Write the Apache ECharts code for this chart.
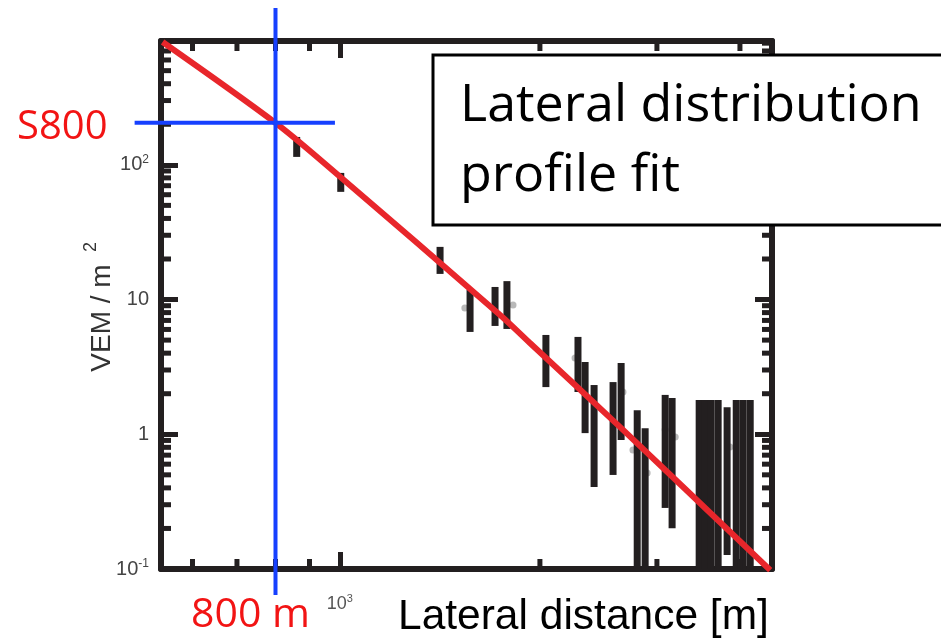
<!DOCTYPE html>
<html>
<head>
<meta charset="utf-8">
<script src="https://cdn.jsdelivr.net/npm/echarts@6/dist/echarts.min.js"></script>
<style>
html,body{margin:0;padding:0;background:#fff;}
#chart{width:941px;height:643px;}
</style>
</head>
<body>
<div id="chart"></div>
<script>
// ---- axis ranges ----
const X_MIN = 538, X_MAX = 4470;
const Y_MIN = 0.1, Y_MAX = 830;

// ---- tick values ----
const xMinorTicks = [600, 700, 800, 900, 2000, 3000, 4000];
const yMinorTicks = [0.2, 0.3, 0.4, 0.5, 0.6, 0.7, 0.8, 0.9,
                     2, 3, 4, 5, 6, 7, 8, 9,
                     20, 30, 40, 50, 60, 70, 80, 90,
                     200, 300, 400, 500, 600, 700, 800];

// ---- station signals: error bars (distance, low, high) ----
const barR  = [861, 1003, 1415, 1570, 1712, 1784, 2042, 2282, 2339, 2413, 2577, 2650,
               2802, 2880, 3087, 3162, 3473, 3545, 3620, 3709, 3826, 3949, 4045, 4145];
const barLo = [114.5, 63.0, 15.5, 5.75, 6.37, 6.05, 2.24, 2.06, 1.02, 0.406, 0.499, 0.907,
               0.1, 0.1, 0.284, 0.201, 0.1, 0.1, 0.1, 0.1, 0.127, 0.1, 0.1, 0.1];
const barHi = [161, 87.1, 24.6, 11.8, 12.4, 13.7, 5.46, 5.28, 3.44, 2.32, 2.44, 3.38,
               1.51, 1.11, 1.96, 1.86, 1.80, 1.80, 1.80, 1.80, 1.59, 1.80, 1.80, 1.80];

// ---- faint central points ----
const ptR = [1542, 1822, 2259, 2667, 2761, 2900, 3087, 3196, 3864];
const ptS = [8.67, 9.12, 3.68, 2.06, 0.764, 0.516, 1.08, 0.955, 0.805];

// ---- lateral distribution fit ----
const fitR = [541, 800, 966, 1742, 1932, 2641, 4443];
const fitS = [817, 205, 94.8, 7.69, 4.76, 1.13, 0.098];

// ---- S800 marker ----
const S800_R = 800, S800 = 205;
const S800_HLINE_R = [491, 983];
const S800_VLINE_S = [1462, 0.064];

const INK = '#231f20';
const BLUE = '#1640ff';

function isPow10(v){ const l = Math.log10(v); return Math.abs(l - Math.round(l)) < 1e-6; }
function powLabel(v){
  if (!isPow10(v)) return '';
  const e = Math.round(Math.log10(v));
  if (e === 0) return '1';
  if (e === 1) return '10';
  return '10{s|' + e + '}';
}

// pixel position on a log axis, extrapolated from the library's own coords of the axis ends
function logPix(api, v, isX){
  const a = isX ? api.coord([X_MIN, Y_MIN])[0] : api.coord([X_MIN, Y_MIN])[1];
  const b = isX ? api.coord([X_MAX, Y_MAX])[0] : api.coord([X_MAX, Y_MAX])[1];
  const lo = Math.log10(isX ? X_MIN : Y_MIN), hi = Math.log10(isX ? X_MAX : Y_MAX);
  return a + (b - a) * (Math.log10(v) - lo) / (hi - lo);
}

const chart = echarts.init(document.getElementById('chart'), null, {renderer:'canvas'});

const axisCommon = {
  type: 'log', logBase: 10,
  axisLine: { show: true, onZero: false, lineStyle: { color: INK, width: 6 } },
  axisTick: { show: true, inside: true, length: 17, lineStyle: { color: INK, width: 5 } },
  splitLine: { show: false },
  minorTick: { show: false }
};

const option = {
  animation: false,
  backgroundColor: '#fff',
  grid: { left: 161, top: 41, width: 611, height: 528, containLabel: false },
  xAxis: [
    Object.assign({}, axisCommon, {
      min: X_MIN, max: X_MAX, position: 'bottom',
      axisLabel: { show: true, margin: 24, formatter: powLabel, color: '#555',
        fontFamily: 'Liberation Sans', fontSize: 18,
        rich: { s: { fontSize: 11, padding: [0,0,11,0], color: '#555', fontFamily: 'Liberation Sans' } } }
    }),
    Object.assign({}, axisCommon, {
      min: X_MIN, max: X_MAX, position: 'top', axisLabel: { show: false }
    })
  ],
  yAxis: [
    Object.assign({}, axisCommon, {
      min: Y_MIN, max: Y_MAX, position: 'left',
      axisLabel: { show: true, margin: 12, formatter: powLabel, color: '#444',
        fontFamily: 'Liberation Sans', fontSize: 20,
        rich: { s: { fontSize: 12, padding: [0,0,11,0], color: '#444', fontFamily: 'Liberation Sans' } } }
    }),
    Object.assign({}, axisCommon, {
      min: Y_MIN, max: Y_MAX, position: 'right', axisLabel: { show: false }
    })
  ],
  series: [
    { // minor ticks on x (bottom + top)
      type: 'custom', xAxisIndex: 0, yAxisIndex: 0, silent: true, clip: false, z: 5,
      data: xMinorTicks.map(v => [v, Y_MIN]),
      renderItem: function(params, api){
        const b = api.coord([api.value(0), Y_MIN]);
        const t = api.coord([api.value(0), Y_MAX]);
        const st = { stroke: INK, lineWidth: 5 };
        return { type: 'group', children: [
          { type: 'line', shape: { x1: b[0], y1: b[1], x2: b[0], y2: b[1] - 10 }, style: st },
          { type: 'line', shape: { x1: t[0], y1: t[1], x2: t[0], y2: t[1] + 10 }, style: st }
        ]};
      }
    },
    { // minor ticks on y (left + right)
      type: 'custom', xAxisIndex: 0, yAxisIndex: 0, silent: true, clip: false, z: 5,
      data: yMinorTicks.map(v => [X_MIN, v]),
      renderItem: function(params, api){
        const l = api.coord([X_MIN, api.value(1)]);
        const r = api.coord([X_MAX, api.value(1)]);
        const st = { stroke: INK, lineWidth: 5 };
        return { type: 'group', children: [
          { type: 'line', shape: { x1: l[0], y1: l[1], x2: l[0] + 10, y2: l[1] }, style: st },
          { type: 'line', shape: { x1: r[0], y1: r[1], x2: r[0] - 10, y2: r[1] }, style: st }
        ]};
      }
    },
    { // faint central values
      type: 'scatter', symbol: 'circle', symbolSize: 7, silent: true, z: 3,
      itemStyle: { color: '#a8a8a8' },
      data: ptR.map((r, i) => [r, ptS[i]])
    },
    { // error bars
      type: 'custom', silent: true, z: 4, clip: true,
      data: barR.map((r, i) => [r, barLo[i], barHi[i]]),
      encode: { x: 0, y: [1, 2] },
      renderItem: function(params, api){
        const hi = api.coord([api.value(0), api.value(2)]);
        const lo = api.coord([api.value(0), api.value(1)]);
        return { type: 'rect', shape: { x: hi[0] - 3.5, y: hi[1], width: 7, height: lo[1] - hi[1] },
                 style: { fill: INK } };
      }
    },
    { // LDF fit
      type: 'line', showSymbol: false, silent: true, z: 8, smooth: 0.3,
      lineStyle: { color: '#e8262b', width: 6 },
      data: fitR.map((r, i) => [r, fitS[i]])
    },
    { // S800 cross-hair
      type: 'custom', silent: true, z: 9, clip: false,
      data: [[S800_R, S800]],
      renderItem: function(params, api){
        const cx = logPix(api, api.value(0), true);
        const cy = logPix(api, api.value(1), false);
        const st = { stroke: BLUE, lineWidth: 4 };
        return { type: 'group', children: [
          { type: 'line', shape: { x1: cx, y1: logPix(api, S800_VLINE_S[0], false),
                                   x2: cx, y2: logPix(api, S800_VLINE_S[1], false) }, style: st },
          { type: 'line', shape: { x1: logPix(api, S800_HLINE_R[0], true), y1: cy,
                                   x2: logPix(api, S800_HLINE_R[1], true), y2: cy }, style: st }
        ]};
      }
    }
  ],
  graphic: [
    { type: 'rect', z: 100, shape: { x: 433, y: 55, width: 540, height: 170 },
      style: { fill: '#fff', stroke: '#000', lineWidth: 3 } },
    { type: 'text', z: 101, style: { x: 460, y: 106, text: 'Lateral distribution',
      font: '52px "Open Sans"', fill: '#000', textAlign: 'left', textVerticalAlign: 'middle' } },
    { type: 'text', z: 101, style: { x: 460, y: 176, text: 'profile fit',
      font: '52px "Open Sans"', fill: '#000', textAlign: 'left', textVerticalAlign: 'middle' } },
    { type: 'text', z: 101, style: { x: 17, y: 128, text: 'S800',
      font: '40px "Open Sans"', fill: '#f21414', textAlign: 'left', textVerticalAlign: 'middle' } },
    { type: 'text', z: 101, style: { x: 191, y: 615, text: '800 m',
      font: '41px "Open Sans"', fill: '#f21414', textAlign: 'left', textVerticalAlign: 'middle' } },
    { type: 'text', z: 101, style: { x: 398, y: 617, text: 'Lateral distance [m]',
      font: '42.5px "Liberation Sans"', fill: '#000', textAlign: 'left', textVerticalAlign: 'middle' } },
    { type: 'text', z: 101, rotation: Math.PI / 2, x: 102.5, y: 318,
      style: { x: 0, y: 0, text: 'VEM / m', font: '28px "Liberation Sans"', fill: '#333',
      textAlign: 'center', textVerticalAlign: 'middle' } },
    { type: 'text', z: 101, rotation: Math.PI / 2, x: 91, y: 247,
      style: { x: 0, y: 0, text: '2', font: '18px "Liberation Sans"', fill: '#333',
      textAlign: 'center', textVerticalAlign: 'middle' } }
  ]
};
chart.setOption(option);
</script>
</body>
</html>
